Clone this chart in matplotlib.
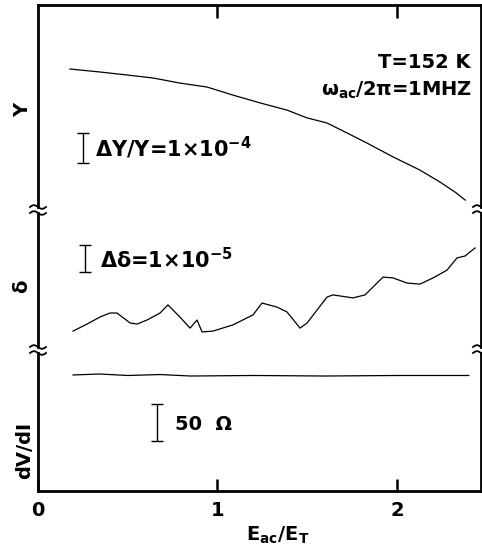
import numpy as np
import matplotlib.pyplot as plt
from matplotlib.lines import Line2D

plt.rcParams['font.family'] = 'DejaVu Sans'
plt.rcParams['font.weight'] = 'bold'
plt.rcParams['mathtext.default'] = 'bf'

# Y trace (relative units of 1e-4)
y_x = [0.178, 0.345, 0.496, 0.641, 0.791, 0.941, 1.086, 1.237, 1.387, 1.499,
       1.610, 1.721, 1.833, 1.978, 2.128, 2.240, 2.330, 2.380]
y_val = [4.70, 4.60, 4.50, 4.40, 4.23, 4.10, 3.83, 3.57, 3.33, 3.07,
         2.90, 2.57, 2.23, 1.77, 1.33, 0.93, 0.57, 0.33]

# delta trace (units of 1e-5)
d_x = [0.195, 0.273, 0.345, 0.401, 0.440, 0.513, 0.552, 0.607, 0.680, 0.724,
       0.791, 0.847, 0.886, 0.914, 0.975, 1.086, 1.198, 1.248, 1.331, 1.387,
       1.460, 1.499, 1.610, 1.643, 1.755, 1.822, 1.922, 1.978, 2.056, 2.128,
       2.201, 2.279, 2.334, 2.379, 2.435]
d_val = [0.70, 0.96, 1.22, 1.37, 1.37, 1.00, 0.96, 1.11, 1.37, 1.67,
         1.22, 0.81, 1.11, 0.67, 0.70, 0.93, 1.30, 1.74, 1.59, 1.41,
         0.81, 1.00, 1.96, 2.04, 1.93, 2.04, 2.70, 2.67, 2.48, 2.44,
         2.67, 2.96, 3.41, 3.48, 3.78]

# dV/dI trace (ohm, arbitrary offset)
r_x = [0.195, 0.345, 0.50, 0.68, 0.85, 1.2, 1.6, 2.0, 2.4]
r_val = [156.8, 158.1, 156.1, 157.4, 155.4, 156.1, 155.4, 156.1, 156.1]

W, H = 482, 548
fig = plt.figure(figsize=(W / 100, H / 100), dpi=100)
fig.patch.set_facecolor('white')

def panel(top_px, bot_px):
    return fig.add_axes([38 / W, 1 - bot_px / H, (481 - 38) / W, (bot_px - top_px) / H])

ax_y = panel(5, 207)
ax_d = panel(213, 347)
ax_r = panel(353, 491)

xmax = 2.468
for ax in (ax_y, ax_d, ax_r):
    ax.set_xlim(0, xmax)
    ax.set_yticks([])
    for s in ax.spines.values():
        s.set_linewidth(2.0)

ax_y.spines['bottom'].set_visible(False)
ax_d.spines['top'].set_visible(False)
ax_d.spines['bottom'].set_visible(False)
ax_r.spines['top'].set_visible(False)

ax_y.set_ylim(0.1, 6.833)
ax_d.set_ylim(0.111, 5.074)
ax_r.set_ylim(0, 186.5)

# ticks
ax_y.xaxis.set_ticks_position('top')
ax_y.set_xticks([1, 2])
ax_y.tick_params(axis='x', direction='in', length=9, width=1.8, labeltop=False)
ax_d.set_xticks([])
ax_r.set_xticks([0, 1, 2])
ax_r.tick_params(axis='x', direction='in', length=9, width=1.8, pad=7, labelsize=14)

# curves
ax_y.plot(y_x, y_val, color='black', lw=0.9)
ax_d.plot(d_x, d_val, color='black', lw=0.9)
ax_r.plot(r_x, r_val, color='black', lw=0.9)

# scale bars
ax_y.errorbar(0.25, 2.07, yerr=0.5, fmt='none', ecolor='black', elinewidth=1, capsize=4.5, capthick=1)
ax_y.text(0.318, 2.07, 'ΔY/Y=1×10$^{-4}$', fontsize=15, va='center', ha='left')
ax_d.errorbar(0.262, 3.39, yerr=0.5, fmt='none', ecolor='black', elinewidth=1, capsize=4.5, capthick=1)
ax_d.text(0.345, 3.33, 'Δδ=1×10$^{-5}$', fontsize=15, va='center', ha='left')
ax_r.errorbar(0.663, 92.6, yerr=25, fmt='none', ecolor='black', elinewidth=1, capsize=4.5, capthick=1)
ax_r.text(0.763, 90.5, '50  Ω', fontsize=14, va='center', ha='left')

ax_y.text(2.41, 4.9, 'T=152 K', fontsize=14, va='center', ha='right')
ax_y.text(2.42, 4.0, 'ω$_{ac}$/2π=1MHZ', fontsize=14, va='center', ha='right')

# axis labels
fig.text(23 / W, 1 - 110 / H, 'Y', rotation=90, fontsize=14, ha='center', va='center')
fig.text(22 / W, 1 - 286 / H, 'δ', rotation=90, fontsize=14, ha='center', va='center')
fig.text(25 / W, 1 - 450 / H, 'dV/dI', rotation=90, fontsize=14, ha='center', va='center')
fig.text(278 / W, 1 - 535 / H, 'E$_{ac}$/E$_{T}$', fontsize=14, ha='center', va='center')

# axis break marks
t = np.linspace(-1, 1, 30)
for xc in (38, 481):
    for yc in (207, 213, 347, 353):
        px = xc + 8 * t
        py = yc + 1.8 * np.sin(np.pi * t)
        fig.add_artist(Line2D(px / W, 1 - py / H, transform=fig.transFigure,
                              color='black', lw=1.3))

fig.savefig('out.png', dpi=100)
